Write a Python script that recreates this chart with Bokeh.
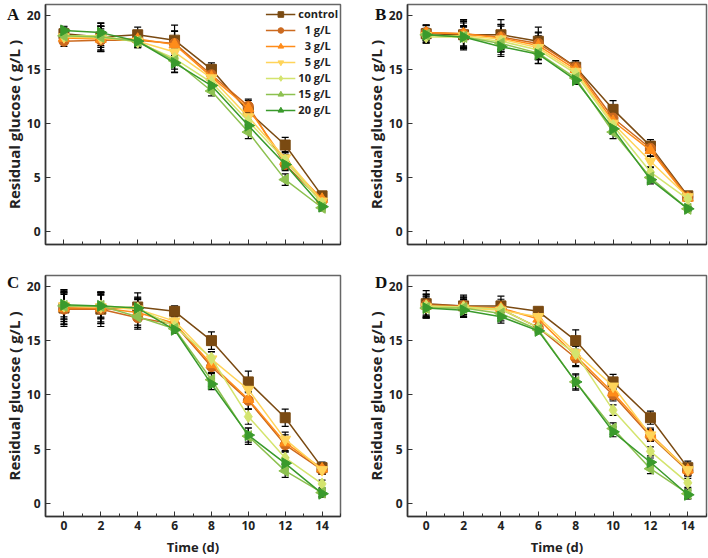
import numpy as np
from bokeh.plotting import figure
from bokeh.models import (Range1d, SingleIntervalTicker, Whisker, TeeHead,
                          ColumnDataSource, Legend, LegendItem, CustomJSTickFormatter, Div)
from bokeh.layouts import gridplot, column
from bokeh.embed import file_html
from bokeh.resources import INLINE

time_d = [0, 2, 4, 6, 8, 10, 12, 14]
series_names = ["control", "1 g/L", "3 g/L", "5 g/L", "10 g/L", "15 g/L", "20 g/L"]
legend_labels = ["control", "\u20071 g/L", "\u20073 g/L", "\u20075 g/L", "10 g/L", "15 g/L", "20 g/L"]
panel_letters = ["A", "B", "C", "D"]
colors = ["#7a4a12", "#cc6a1f", "#ff8c1a", "#ffd45a", "#d4e46e", "#8dc150", "#3a9a2c"]
markers = ["square", "circle", "triangle", "inverted_triangle", "diamond", "triangle", "triangle"]
angles = [0, 0, 0, 0, 0, np.pi / 2, -np.pi / 2]
sizes = [10, 10, 11, 11, 12, 11, 11]

# Panel A
a_control = [18.3, 18.0, 18.2, 17.7, 15.0, 11.1, 8.0, 3.3]
a_1 = [17.6, 17.7, 17.7, 17.4, 14.5, 11.6, 6.2, 2.8]
a_3 = [17.9, 17.8, 17.8, 17.3, 14.3, 11.4, 6.5, 3.0]
a_5 = [18.0, 17.9, 17.6, 16.6, 14.2, 10.6, 6.8, 2.8]
a_10 = [18.1, 18.1, 17.5, 16.0, 13.8, 10.2, 6.6, 2.6]
a_15 = [18.1, 18.0, 17.6, 15.8, 13.0, 9.2, 4.8, 2.2]
a_20 = [18.6, 18.4, 17.6, 15.6, 13.5, 9.8, 6.2, 2.3]
a_err = [0.6, 1.3, 0.7, 1.4, 0.6, 0.8, 0.7, 0.4]

# Panel B
b_control = [18.3, 18.2, 18.2, 17.6, 15.2, 11.3, 7.9, 3.3]
b_1 = [18.4, 18.3, 18.0, 17.4, 15.2, 10.5, 7.7, 3.2]
b_3 = [18.4, 18.3, 17.9, 17.2, 15.0, 10.2, 7.5, 3.1]
b_5 = [18.1, 18.1, 17.8, 17.0, 14.8, 10.0, 6.5, 3.2]
b_10 = [18.0, 18.0, 17.6, 16.8, 14.6, 9.8, 5.5, 3.0]
b_15 = [18.2, 18.0, 17.4, 16.5, 14.2, 9.2, 5.0, 2.1]
b_20 = [18.2, 18.0, 17.1, 16.4, 14.0, 9.5, 4.8, 2.1]
b_err = [0.8, 1.4, 1.4, 1.3, 0.6, 0.8, 0.6, 0.3]

# Panel C
c_control = [18.0, 17.9, 18.1, 17.7, 15.0, 11.2, 7.9, 3.3]
c_1 = [17.9, 17.9, 17.1, 16.5, 12.6, 9.5, 5.4, 3.1]
c_3 = [18.0, 18.0, 17.6, 16.6, 12.8, 9.6, 5.6, 3.2]
c_5 = [18.2, 18.1, 17.9, 16.8, 13.3, 10.5, 5.9, 3.1]
c_10 = [18.2, 18.2, 18.0, 16.3, 13.4, 8.0, 4.2, 1.8]
c_15 = [18.2, 18.2, 17.2, 16.1, 11.4, 6.2, 3.0, 1.0]
c_20 = [18.3, 18.2, 18.0, 16.0, 11.0, 6.3, 3.7, 0.9]
c_err = [1.7, 1.6, 1.3, 0.5, 0.8, 1.0, 0.8, 0.5]

# Panel D
d_control = [18.4, 18.2, 18.2, 17.7, 15.0, 11.2, 7.9, 3.3]
d_1 = [18.3, 18.2, 17.9, 16.2, 13.4, 10.0, 6.2, 3.0]
d_3 = [18.2, 18.1, 18.0, 17.0, 13.6, 10.2, 6.4, 3.1]
d_5 = [18.1, 18.0, 17.8, 17.2, 13.9, 10.8, 6.3, 3.1]
d_10 = [18.2, 18.1, 17.9, 16.2, 13.8, 8.6, 4.8, 1.9]
d_15 = [18.0, 18.0, 17.5, 16.0, 11.2, 6.9, 3.2, 0.9]
d_20 = [18.0, 17.8, 17.2, 15.9, 11.2, 6.6, 3.8, 0.8]
d_err = [1.2, 1.0, 0.9, 0.3, 1.0, 0.7, 0.6, 0.6]

panels = [
    [a_control, a_1, a_3, a_5, a_10, a_15, a_20],
    [b_control, b_1, b_3, b_5, b_10, b_15, b_20],
    [c_control, c_1, c_3, c_5, c_10, c_15, c_20],
    [d_control, d_1, d_3, d_5, d_10, d_15, d_20],
]
panel_errs = [a_err, b_err, c_err, d_err]

FONT = "Open Sans"
err_scale = [1.0, 0.8, 0.9, 0.85, 0.7, 0.75, 0.65]


def make_panel(idx, top, left, width, height, border_left, border_top, border_bottom):
    data = panels[idx]
    err = panel_errs[idx]
    p = figure(width=width, height=height, output_backend="svg", toolbar_location=None,
               x_range=Range1d(-1, 15), y_range=Range1d(-1.2, 21),
               min_border_left=border_left, min_border_right=14 if left else 2,
               min_border_top=border_top, min_border_bottom=border_bottom)
    p.xgrid.visible = False
    p.ygrid.visible = False
    p.background_fill_color = "white"
    p.outline_line_color = "#666666"
    p.outline_line_width = 1.5
    p.xaxis.ticker = SingleIntervalTicker(interval=2, num_minor_ticks=2)
    p.yaxis.ticker = SingleIntervalTicker(interval=5, num_minor_ticks=0)
    for ax in (p.xaxis[0], p.yaxis[0]):
        ax.axis_line_color = "#333333"
        ax.axis_line_width = 1.5
        ax.major_tick_in = 5
        ax.major_tick_out = 0
        ax.minor_tick_in = 3
        ax.minor_tick_out = 0
        ax.major_tick_line_color = "#333333"
        ax.minor_tick_line_color = "#333333"
        ax.major_label_text_font = FONT
        ax.major_label_text_font_style = "bold"
        ax.major_label_text_font_size = "12px"
        ax.major_label_text_color = "#222222"
        ax.axis_label_text_font = FONT
        ax.axis_label_text_font_style = "bold"
        ax.axis_label_text_font_size = "13px"
        ax.axis_label_text_color = "#222222"
    p.yaxis.major_label_standoff = 5
    p.yaxis.axis_label = "Residual glucose ( g/L )"
    p.yaxis.axis_label_text_font_size = "15px"
    p.yaxis.axis_label_standoff = 0
    if top:
        p.xaxis.formatter = CustomJSTickFormatter(code="return ''")
        p.xaxis.major_label_standoff = 0
    else:
        p.xaxis.axis_label = "Time (d)"
        p.xaxis.major_label_standoff = 4
        p.xaxis.axis_label_standoff = 5

    items = []
    for i, vals in enumerate(data):
        lr = p.line(time_d, vals, line_color=colors[i], line_width=1.5)
        sr = p.scatter(time_d, vals, marker=markers[i], angle=angles[i], size=sizes[i],
                       fill_color=colors[i], line_color=colors[i])
        items.append(LegendItem(label=legend_labels[i], renderers=[lr, sr]))
    for i, vals in enumerate(data):
        e = [v * err_scale[i] for v in err]
        src = ColumnDataSource(dict(x=time_d,
                                    upper=[v + d for v, d in zip(vals, e)],
                                    lower=[v - d for v, d in zip(vals, e)]))
        w = Whisker(base="x", upper="upper", lower="lower", source=src,
                    line_color="black", line_width=1.2,
                    upper_head=TeeHead(size=7, line_color="black", line_width=1.2),
                    lower_head=TeeHead(size=7, line_color="black", line_width=1.2))
        p.add_layout(w)
    if idx == 0:
        leg = Legend(items=items, location="top_right", border_line_color=None,
                     background_fill_alpha=0, label_text_font=FONT,
                     label_text_font_style="bold", label_text_font_size="11px",
                     label_text_color="#222222", glyph_width=30, glyph_height=14,
                     label_height=14, spacing=1, padding=3, margin=2, label_standoff=3)
        p.add_layout(leg)
    return p


pA = make_panel(0, True, True, 354, 274, 40, 4, 30)
pB = make_panel(1, True, False, 354, 274, 53, 4, 30)
pC = make_panel(2, False, True, 354, 284, 40, 1, 42)
pD = make_panel(3, False, False, 354, 284, 53, 1, 42)

grid = gridplot([[pA, pB], [pC, pD]], toolbar_location=None)

letter_pos = [(2, 0), (370, 0), (2, 268), (370, 268)]
divs = []
for letter, (lx, ly) in zip(panel_letters, letter_pos):
    divs.append(Div(text=letter, width=16, height=20,
                    styles={"position": "absolute", "left": f"{lx}px", "top": f"{ly}px",
                            "font-family": "'Liberation Serif', serif",
                            "font-weight": "bold", "font-size": "17px",
                            "color": "#111111", "z-index": "10",
                            "line-height": "20px"}))

root = column(grid, *divs, styles={"position": "relative"})
open("out.html", "w").write(file_html(root, INLINE))
